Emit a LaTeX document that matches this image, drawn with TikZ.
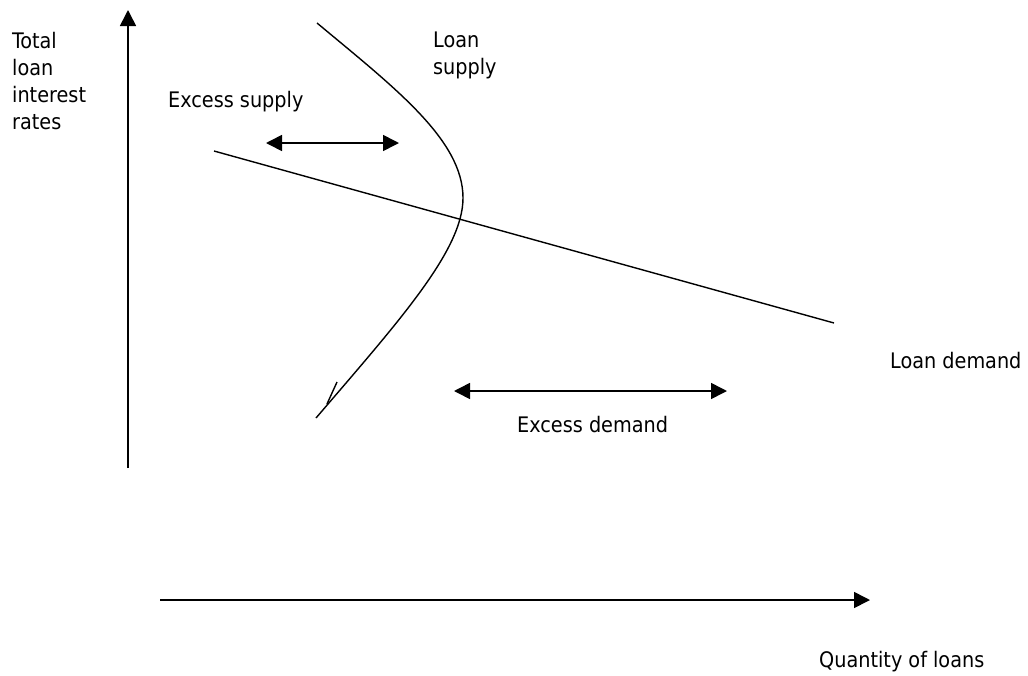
\documentclass[tikz,border=0pt]{standalone}
\usepackage{fontspec}
\setmainfont{DejaVu Sans Condensed}
\usetikzlibrary{arrows.meta}
\begin{document}
\begin{tikzpicture}[x=1pt,y=-1pt,
  lbl/.style={inner sep=0pt,font=\fontsize{21.4}{27}\selectfont,align=left},
  axis/.style={line width=1.6pt,-{Triangle[length=16pt,width=16pt]}},
  dbl/.style={line width=1.6pt,{Triangle[length=16pt,width=16pt]}-{Triangle[length=16pt,width=16pt]}},
  curve/.style={line width=1.4pt}]
\useasboundingbox (0,0) rectangle (1028,675);
% axes
\coordinate (yb) at (128,468);
\coordinate (yt) at (128,10);
\coordinate (xl) at (160,600);
\coordinate (xr) at (870,600);
\draw[axis] (yb) -- (yt);
\draw[axis] (xl) -- (xr);
% demand line
\coordinate (d1) at (214,151);
\coordinate (d2) at (834,323);
\draw[curve] (d1) -- (d2);
% supply curve
\coordinate (s1) at (317,23);
\coordinate (s2) at (463,198);
\coordinate (s3) at (316,418);
\draw[curve] (s1) .. controls (395,88) and (463,140) .. (s2)
  .. controls (463,250) and (400,320) .. (s3);
\coordinate (h1) at (337,382);
\coordinate (h2) at (327,404);
\draw[curve] (h1) -- (h2);
% excess arrows
\coordinate (es1) at (266,143);
\coordinate (es2) at (399,143);
\draw[dbl] (es1) -- (es2);
\coordinate (ed1) at (454,391);
\coordinate (ed2) at (727,391);
\draw[dbl] (ed1) -- (ed2);
% labels
\node[lbl,anchor=north west] (ylab) at (12,32) {Total\\loan\\interest\\rates};
\node[lbl,anchor=north west] (slab) at (433,32) {Loan\\supply};
\node[lbl,anchor=base west] (eslab) at (168,107) {Excess supply};
\node[lbl,anchor=base west] (edlab) at (517,432) {Excess demand};
\node[lbl,anchor=base west] (dlab) at (890,368) {Loan demand};
\node[lbl,anchor=base west] (xlab) at (819,667) {Quantity of loans};
\end{tikzpicture}
\end{document}
